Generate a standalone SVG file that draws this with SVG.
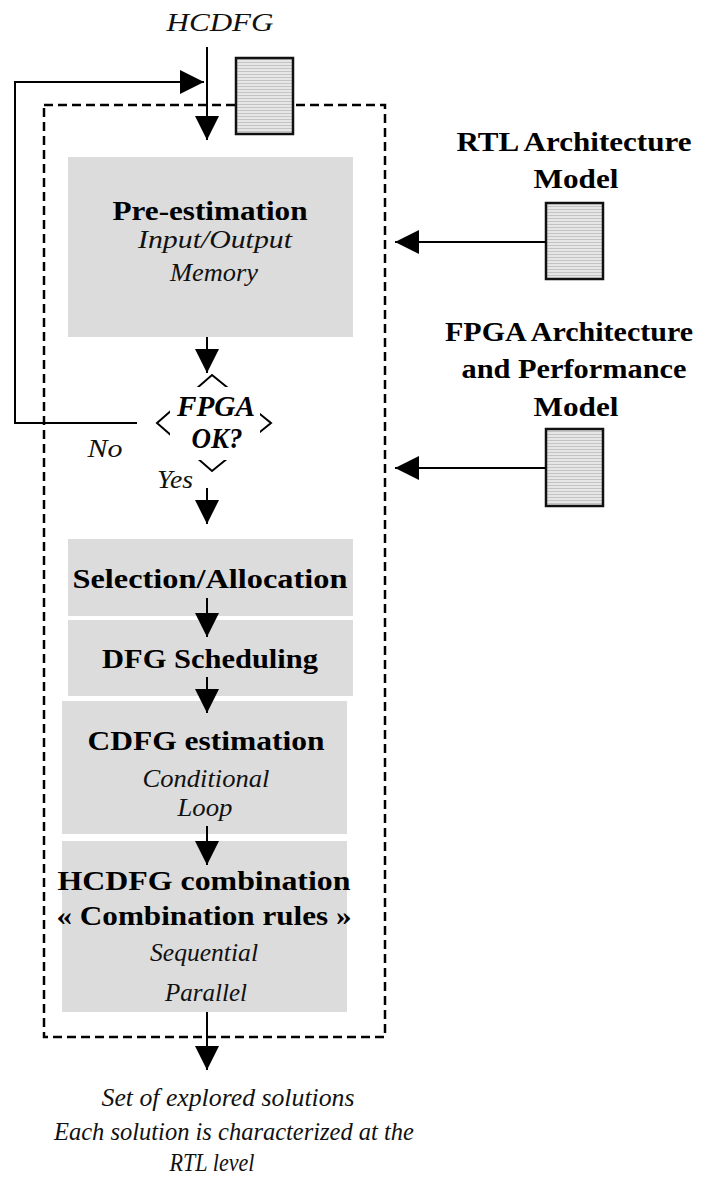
<svg xmlns="http://www.w3.org/2000/svg" width="701" height="1187" viewBox="0 0 701 1187">
<style>
.box{fill:#dcdcdc;stroke:none}
.b{font-family:"Liberation Serif","Times New Roman",serif;font-weight:bold;font-size:27px;fill:#000;text-anchor:middle}
.i{font-family:"Liberation Serif","Times New Roman",serif;font-style:italic;font-size:26px;fill:#111;text-anchor:middle}
.bi{font-family:"Liberation Serif","Times New Roman",serif;font-style:italic;font-weight:bold;font-size:30px;fill:#000;text-anchor:middle}
.arr{fill:none;stroke:#000;stroke-width:2;marker-end:url(#ah)}
.doc{fill:url(#stripes);stroke:#111;stroke-width:2.5}
</style>
<defs>
<marker id="ah" viewBox="0 0 24 24" refX="24" refY="12" markerWidth="24" markerHeight="24" markerUnits="userSpaceOnUse" orient="auto">
<path d="M0,0 L24,12 L0,24 z" fill="#000"/>
</marker>
<pattern id="stripes" x="0" y="0" width="4" height="3" patternUnits="userSpaceOnUse">
<rect width="4" height="3" fill="#e6e6e6"/>
<rect y="2" width="4" height="1" fill="#c4c4c4"/>
</pattern>
</defs>

<rect id="boundary" x="44" y="105" width="341" height="932" fill="none" stroke="#000" stroke-width="2.5" stroke-dasharray="9 5"/>

<text id="hcdfg-in" class="i" x="220" y="31" font-size="28" textLength="107" lengthAdjust="spacingAndGlyphs">HCDFG</text>

<g id="doc-input"><rect class="doc" x="236" y="58" width="57" height="76"/></g>

<g id="pre-estimation">
<rect class="box" x="68" y="157" width="285" height="180"/>
<text class="b" x="210" y="220" textLength="195" lengthAdjust="spacingAndGlyphs">Pre-estimation</text>
<text class="i" x="215" y="248" textLength="154" lengthAdjust="spacingAndGlyphs">Input/Output</text>
<text class="i" x="214" y="281" textLength="88" lengthAdjust="spacingAndGlyphs">Memory</text>
</g>

<g id="decision">
<polygon points="212,375 271,423 212,471 157,423" fill="none" stroke="#000" stroke-width="2"/>
<rect x="170" y="387" width="90" height="73" fill="#fff"/>
<text class="bi" x="216" y="416" textLength="78" lengthAdjust="spacingAndGlyphs">FPGA</text>
<text class="bi" x="217" y="448" textLength="51" lengthAdjust="spacingAndGlyphs">OK?</text>
</g>
<text id="lbl-no" class="i" x="105" y="457" textLength="35" lengthAdjust="spacingAndGlyphs">No</text>
<text id="lbl-yes" class="i" x="175" y="488" textLength="36" lengthAdjust="spacingAndGlyphs">Yes</text>

<g id="selection">
<rect class="box" x="68" y="539" width="285" height="77"/>
<text class="b" x="210" y="588" textLength="275" lengthAdjust="spacingAndGlyphs">Selection/Allocation</text>
</g>

<g id="dfg">
<rect class="box" x="68" y="620" width="285" height="76"/>
<text class="b" x="210" y="668" textLength="216" lengthAdjust="spacingAndGlyphs">DFG Scheduling</text>
</g>

<g id="cdfg">
<rect class="box" x="62" y="701" width="285" height="133"/>
<text class="b" x="206" y="750" textLength="237" lengthAdjust="spacingAndGlyphs">CDFG estimation</text>
<text class="i" x="206" y="787" textLength="127" lengthAdjust="spacingAndGlyphs">Conditional</text>
<text class="i" x="205" y="816" textLength="55" lengthAdjust="spacingAndGlyphs">Loop</text>
</g>

<g id="hcdfg-comb">
<rect class="box" x="62" y="841" width="285" height="171"/>
<text class="b" x="204" y="890" textLength="293" lengthAdjust="spacingAndGlyphs">HCDFG combination</text>
<text class="b" x="204" y="925" textLength="295" lengthAdjust="spacingAndGlyphs">« Combination rules »</text>
<text class="i" x="204" y="961" textLength="108" lengthAdjust="spacingAndGlyphs">Sequential</text>
<text class="i" x="206" y="1001" textLength="82" lengthAdjust="spacingAndGlyphs">Parallel</text>
</g>

<g id="output">
<text class="i" x="228" y="1106" textLength="253" lengthAdjust="spacingAndGlyphs">Set of explored solutions</text>
<text class="i" x="234" y="1140" textLength="360" lengthAdjust="spacingAndGlyphs">Each solution is characterized at the</text>
<text class="i" x="212" y="1171" textLength="85" lengthAdjust="spacingAndGlyphs">RTL level</text>
</g>

<g id="rtl-model">
<text class="b" x="574" y="151" textLength="235" lengthAdjust="spacingAndGlyphs">RTL Architecture</text>
<text class="b" x="576" y="188" textLength="85" lengthAdjust="spacingAndGlyphs">Model</text>
<rect class="doc" x="546" y="203" width="57" height="76"/>
</g>

<g id="fpga-model">
<text class="b" x="569" y="341" textLength="248" lengthAdjust="spacingAndGlyphs">FPGA Architecture</text>
<text class="b" x="574" y="378" textLength="225" lengthAdjust="spacingAndGlyphs">and Performance</text>
<text class="b" x="576" y="416" textLength="85" lengthAdjust="spacingAndGlyphs">Model</text>
<rect class="doc" x="546" y="429" width="57" height="77"/>
</g>

<g id="connectors">
<line class="arr" x1="207" y1="47" x2="207" y2="140"/>
<polyline class="arr" points="137,423 15,423 15,82 204,82"/>
<line class="arr" x1="207" y1="337" x2="207" y2="373"/>
<line class="arr" x1="207" y1="488" x2="207" y2="524"/>
<line class="arr" x1="207" y1="598" x2="207" y2="637"/>
<line class="arr" x1="207" y1="677" x2="207" y2="713"/>
<line class="arr" x1="207" y1="826" x2="207" y2="865"/>
<line class="arr" x1="207" y1="1012" x2="207" y2="1070"/>
<line class="arr" x1="546" y1="242" x2="395" y2="242"/>
<line class="arr" x1="546" y1="468" x2="395" y2="468"/>
</g>
</svg>
